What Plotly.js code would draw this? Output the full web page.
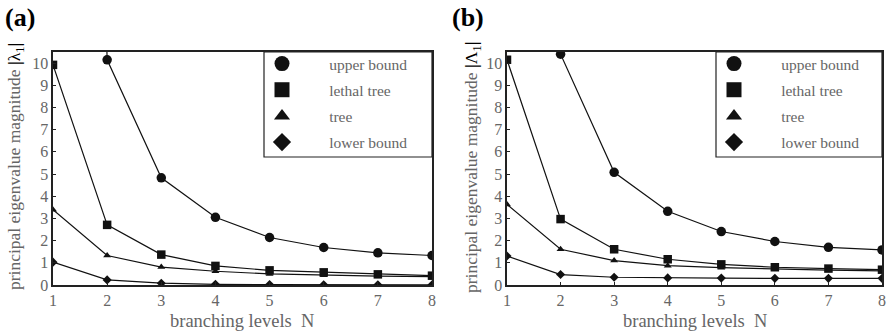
<!DOCTYPE html>
<html>
<head>
<meta charset="utf-8">
<script src="https://cdn.plot.ly/plotly-3.0.1.min.js"></script>
<style>html,body{margin:0;padding:0;background:#fff;overflow:hidden}#chart{width:889px;height:334px}</style>
</head>
<body>
<div id="chart"></div>
<script>
// ---- data ----
const levels = [1, 2, 3, 4, 5, 6, 7, 8];
const seriesNames = ['upper bound', 'lethal tree', 'tree', 'lower bound'];
const yTickVals = [0, 1, 2, 3, 4, 5, 6, 7, 8, 9, 10];
// panel (a)  |λ1|
const upperA  = [100, 10.15, 4.83, 3.05, 2.14, 1.69, 1.45, 1.33];
const lethalA = [9.92, 2.71, 1.37, 0.86, 0.66, 0.57, 0.48, 0.42];
const treeA   = [3.39, 1.33, 0.81, 0.62, 0.50, 0.44, 0.40, 0.38];
const lowerA  = [1.03, 0.23, 0.08, 0.03, 0.02, 0.01, 0.01, 0.01];
// panel (b)  |Λ1|
const upperB  = [100, 10.40, 5.08, 3.32, 2.41, 1.96, 1.70, 1.58];
const lethalB = [10.15, 2.97, 1.61, 1.16, 0.93, 0.80, 0.74, 0.69];
const treeB   = [3.63, 1.61, 1.10, 0.87, 0.78, 0.72, 0.67, 0.64];
const lowerB  = [1.31, 0.47, 0.35, 0.32, 0.31, 0.30, 0.30, 0.30];

const symbols = ['circle', 'square', 'triangle-up', 'diamond'];
const dataSizes = [9.5, 8.5, 7, 7];
const legendSizes = [15, 15, 14, 14];
const FONT = 'Liberation Serif';
const GREY = '#666666';
const NB = '\u00a0';

const traces = [];
function addPanel(series, xa, ya, legendId) {
  series.forEach((ys, i) => {
    traces.push({
      x: levels, y: ys, xaxis: xa, yaxis: ya, mode: 'lines+markers',
      line: {color: '#111', width: 1.2},
      marker: {symbol: symbols[i], size: dataSizes[i], color: '#111'},
      showlegend: false, cliponaxis: true, hoverinfo: 'x+y'
    });
  });
  series.forEach((ys, i) => {
    traces.push({
      x: [null], y: [null], xaxis: xa, yaxis: ya, mode: 'markers',
      name: NB.repeat(7) + seriesNames[i] + NB.repeat(3),
      legend: legendId, legendgroup: legendId + i,
      marker: {symbol: symbols[i], size: legendSizes[i], color: '#111'}
    });
  });
}
addPanel([upperA, lethalA, treeA, lowerA], 'x', 'y', 'legend');
addPanel([upperB, lethalB, treeB, lowerB], 'x2', 'y2', 'legend2');

const W = 889, H = 334;
const yDom = [1 - 285 / H, 1 - 52 / H];
function xaxis(dom) {
  return {
    domain: dom, range: [1, 8], tickvals: levels, ticks: 'inside', ticklen: 3,
    tickcolor: '#222', showline: true, linecolor: '#222', linewidth: 1.6, mirror: true,
    showgrid: false, zeroline: false, ticklabeloverflow: 'allow',
    tickfont: {family: FONT, size: 16, color: GREY}
  };
}
function yaxis(anchor) {
  return {
    domain: yDom, range: [0, 10.5], tickvals: yTickVals, ticks: 'inside', ticklen: 3,
    tickcolor: '#222', showline: true, linecolor: '#222', linewidth: 1.6, mirror: true,
    showgrid: false, zeroline: false, anchor: anchor, ticklabeloverflow: 'allow',
    tickfont: {family: FONT, size: 16, color: GREY}
  };
}
function legend(xLeft) {
  return {
    x: xLeft, xanchor: 'left', y: 1 - 47 / H, yanchor: 'top',
    bgcolor: 'rgba(0,0,0,0)', borderwidth: 0,
    font: {family: FONT, size: 15.5, color: GREY}, tracegroupgap: 3, itemwidth: 30
  };
}
function box(x0, x1) {
  return {type: 'rect', xref: 'paper', yref: 'paper', x0: x0 / W, x1: x1 / W,
          y0: 1 - 157 / H, y1: 1 - 52 / H, line: {color: '#222', width: 1.2}, fillcolor: 'rgba(0,0,0,0)'};
}

const layout = {
  width: W, height: H, margin: {l: 0, r: 0, t: 0, b: 0},
  paper_bgcolor: '#fff', plot_bgcolor: '#fff',
  xaxis: xaxis([53 / W, 432 / W]),
  yaxis: yaxis('x'),
  xaxis2: Object.assign(xaxis([507 / W, 882 / W]), {anchor: 'y2'}),
  yaxis2: yaxis('x2'),
  legend: legend(262 / W),
  legend2: legend(714 / W),
  shapes: [box(264, 432), box(716, 882)],
  annotations: [
    {text: '<b>(a)</b>', xref: 'paper', yref: 'paper', x: 3 / W, y: 1 - 18 / H,
     xanchor: 'left', yanchor: 'middle', showarrow: false, font: {family: FONT, size: 26, color: '#000'}},
    {text: '<b>(b)</b>', xref: 'paper', yref: 'paper', x: 450 / W, y: 1 - 18 / H,
     xanchor: 'left', yanchor: 'middle', showarrow: false, font: {family: FONT, size: 26, color: '#000'}},
    {text: 'principal eigenvalue magnitude <span style="color:#000"><b>|</b>λ<sub>1</sub><b>|</b></span>',
     xref: 'paper', yref: 'paper', x: 15 / W, y: 1 - 167 / H, textangle: -90,
     xanchor: 'center', yanchor: 'middle', showarrow: false, font: {family: FONT, size: 17.5, color: GREY}},
    {text: 'principal eigenvalue magnitude <span style="color:#000"><b>|</b>Λ<sub>1</sub><b>|</b></span>',
     xref: 'paper', yref: 'paper', x: 472 / W, y: 1 - 167 / H, textangle: -90,
     xanchor: 'center', yanchor: 'middle', showarrow: false, font: {family: FONT, size: 17.5, color: GREY}},
    {text: 'branching levels' + NB + NB + 'N', xref: 'paper', yref: 'paper', x: 242 / W, y: 1 - 321 / H,
     xanchor: 'center', yanchor: 'middle', showarrow: false, font: {family: FONT, size: 18.5, color: GREY}},
    {text: 'branching levels' + NB + NB + 'N', xref: 'paper', yref: 'paper', x: 695 / W, y: 1 - 321 / H,
     xanchor: 'center', yanchor: 'middle', showarrow: false, font: {family: FONT, size: 18.5, color: GREY}}
  ]
};

Plotly.newPlot('chart', traces, layout, {staticPlot: true, displayModeBar: false});
</script>
</body>
</html>
